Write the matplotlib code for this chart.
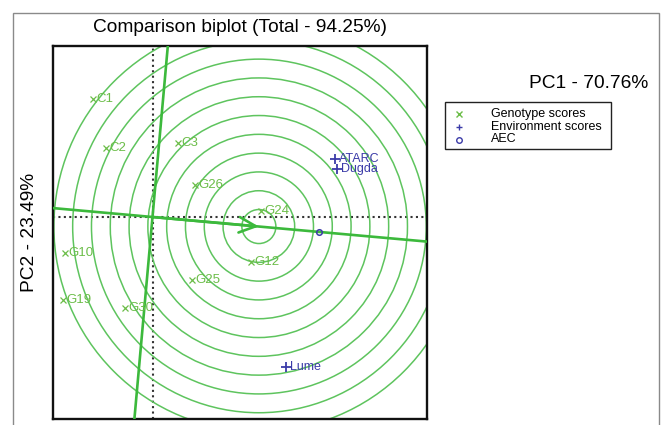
import numpy as np
import matplotlib
matplotlib.use("Agg")
import matplotlib.pyplot as plt
from matplotlib.patches import Circle, Rectangle
from matplotlib.lines import Line2D

plt.rcParams['font.family'] = ['Liberation Sans', 'DejaVu Sans']

# ---- data ----
genotypes = ["C1", "C2", "C3", "G26", "G24", "G12", "G25", "G10", "G19", "G30"]
gen_pc1 = [-1.48, -1.17, 0.64, 1.06, 2.72, 2.45, 0.99, -2.18, -2.25, -0.68]
gen_pc2 = [2.95, 1.73, 1.84, 0.79, 0.16, -1.13, -1.57, -0.90, -2.08, -2.27]

environments = ["ATARC", "Dugda", "Lume"]
env_pc1 = [4.56, 4.61, 3.33]
env_pc2 = [1.45, 1.19, -3.76]

ideal_dist = 2.67          # distance of ideal genotype along AEC
ring_first = 0.425         # first circle radius
ring_step = 0.47           # radius step
n_rings = 11

title = "Comparison biplot (Total - 94.25%)"
xlab = "PC1 - 70.76%"
ylab = "PC2 - 23.49%"

GREEN_LINE = "#3cb93c"
GREEN_RING = "#5ec45e"
GREEN_TXT = "#6bbd48"
BLUE = "#3b3ba8"

fig = plt.figure(figsize=(6.61, 4.25), dpi=100)
W, H = 661, 425
ax = fig.add_axes([53 / W, 1 - 419 / H, 374 / W, 373 / H])
ax.set_xlim(-2.4875, 6.8625)
ax.set_ylim(-5.05, 4.275)
ax.set_xticks([])
ax.set_yticks([])
for s in ax.spines.values():
    s.set_linewidth(1.7)
    s.set_color("#111111")

# outer grey frame
fig.add_artist(Rectangle((13 / W, -0.1), (659 - 13) / W, (425 - 13) / H + 0.1,
                         transform=fig.transFigure, fill=False,
                         edgecolor="#8a8a8a", lw=1.0))

# dotted axes through origin
ax.axhline(0, color="#333333", lw=1.5, ls=(0, (1, 1.6)), zorder=1)
ax.axvline(0, color="#333333", lw=1.5, ls=(0, (1, 1.6)), zorder=1)

# AEC
aec = np.array([np.mean(env_pc1), np.mean(env_pc2)])
u = aec / np.linalg.norm(aec)
perp = np.array([-u[1], u[0]])
t = np.array([-30, 30])
ax.plot(t * u[0], t * u[1], color=GREEN_LINE, lw=1.9, zorder=3)
ax.plot(t * perp[0], t * perp[1], color=GREEN_LINE, lw=1.9, zorder=3)

center = ideal_dist * u
for k in range(n_rings):
    r = ring_first + ring_step * k
    ax.add_patch(Circle(center, r, fill=False, edgecolor=GREEN_RING, lw=1.1, zorder=2))

ax.annotate("", xy=(center[0], center[1]), xytext=(0, 0),
            arrowprops=dict(arrowstyle="->,head_length=0.6,head_width=0.28",
                            color=GREEN_LINE, lw=1.9, mutation_scale=20,
                            shrinkA=0, shrinkB=0), zorder=4)

# genotype scores
ax.plot(gen_pc1, gen_pc2, ls="none", marker="x", ms=4.5, mew=0.9, color=GREEN_TXT, zorder=5)
for n, x, y in zip(genotypes, gen_pc1, gen_pc2):
    ax.annotate(n, (x, y), xytext=(2.5, 0), textcoords="offset points",
                ha="left", va="center", fontsize=9.5, color=GREEN_TXT, zorder=5)

# environment scores
ax.plot(env_pc1, env_pc2, ls="none", marker="+", ms=7, mew=1.3, color=BLUE, zorder=5)
for n, x, y in zip(environments, env_pc1, env_pc2):
    ax.annotate(n, (x, y), xytext=(3, 0), textcoords="offset points",
                ha="left", va="center", fontsize=9, color=BLUE, zorder=5)

ax.plot([aec[0]], [aec[1]], ls="none", marker="o", ms=4, mew=1.1,
        mfc="none", color=BLUE, zorder=6)

# texts
fig.text(240 / W, 1 - 28 / H, title, ha="center", va="center", fontsize=13.8)
fig.text(648 / W, 1 - 84 / H, xlab, ha="right", va="center", fontsize=13.8)
fig.text(29 / W, 1 - 232 / H, ylab, ha="center", va="center", rotation=90, fontsize=13.8)

# legend (manual)
fig.add_artist(Rectangle((445 / W, 1 - 149 / H), (611 - 445) / W, (149 - 102) / H,
                         transform=fig.transFigure, fill=False, edgecolor="#222222", lw=1.0))
leg_labels = ["Genotype scores", "Environment scores", "AEC"]
leg_markers = ["x", "+", "o"]
leg_colors = [GREEN_TXT, BLUE, BLUE]
leg_y = [113.5, 126.7, 139.5]
for lab, mk, c, yy in zip(leg_labels, leg_markers, leg_colors, leg_y):
    fig.add_artist(Line2D([459 / W], [1 - yy / H], transform=fig.transFigure,
                          marker=mk, ls="none", color=c,
                          ms=4.5 if mk != "o" else 4, mew=1.0,
                          mfc="none"))
    fig.text(491 / W, 1 - yy / H, lab, ha="left", va="center", fontsize=9)

fig.savefig("out.png", dpi=100)
